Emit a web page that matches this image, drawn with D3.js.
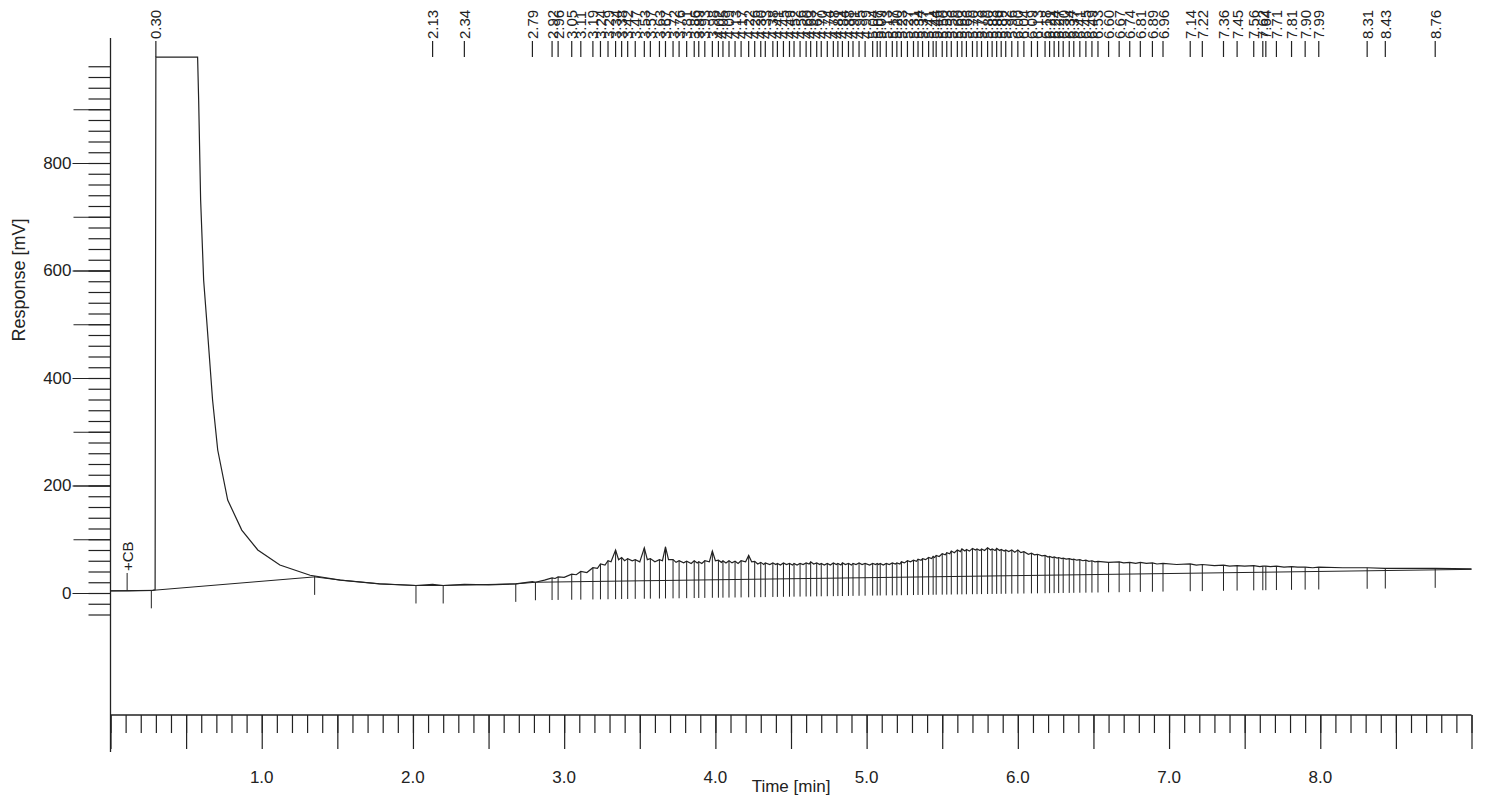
<!DOCTYPE html>
<html><head><meta charset="utf-8">
<script src="https://cdnjs.cloudflare.com/ajax/libs/d3/7.8.5/d3.min.js"></script>
<style>
html,body{margin:0;padding:0;background:#fff;}
svg text{font-family:"Liberation Sans",Arial,sans-serif;fill:#222;}
</style></head>
<body>
<svg id="chart" width="1486" height="801"></svg>
<script>
// ---- data ----
const sigT = [0.00,0.12,0.28,0.295,0.30,0.576,0.583,0.596,0.616,0.636,0.675,0.709,0.775,0.868,0.974,1.12,1.32,1.52,1.78,2.02,2.13,2.20,2.34,2.50,2.68,2.79,2.81,2.87,2.92,2.94,2.96,3.00,3.05,3.08,3.11,3.15,3.19,3.22,3.24,3.27,3.29,3.31,3.34,3.36,3.38,3.40,3.42,3.45,3.47,3.50,3.53,3.55,3.57,3.60,3.63,3.65,3.67,3.69,3.72,3.74,3.76,3.79,3.81,3.84,3.86,3.88,3.89,3.91,3.93,3.96,3.98,4.00,4.02,4.04,4.05,4.07,4.09,4.11,4.13,4.15,4.17,4.20,4.22,4.24,4.26,4.28,4.30,4.32,4.33,4.36,4.38,4.40,4.41,4.43,4.45,4.47,4.49,4.51,4.52,4.54,4.56,4.58,4.60,4.62,4.63,4.65,4.67,4.69,4.70,4.72,4.74,4.76,4.78,4.80,4.81,4.83,4.84,4.86,4.88,4.90,4.91,4.93,4.95,4.97,4.99,5.02,5.04,5.06,5.07,5.08,5.09,5.11,5.13,5.15,5.17,5.19,5.20,5.22,5.23,5.25,5.27,5.29,5.31,5.33,5.34,5.36,5.37,5.39,5.41,5.43,5.44,5.45,5.46,5.48,5.50,5.52,5.53,5.55,5.56,5.58,5.60,5.62,5.63,5.65,5.66,5.68,5.70,5.72,5.73,5.75,5.76,5.78,5.80,5.82,5.83,5.85,5.86,5.88,5.89,5.91,5.92,5.94,5.96,5.98,6.00,6.02,6.04,6.07,6.09,6.11,6.13,6.16,6.18,6.20,6.21,6.23,6.24,6.26,6.27,6.29,6.30,6.32,6.34,6.36,6.37,6.39,6.41,6.43,6.45,6.47,6.49,6.51,6.53,6.60,6.67,6.70,6.74,6.78,6.81,6.85,6.89,6.92,6.96,7.05,7.14,7.18,7.22,7.30,7.36,7.40,7.45,7.50,7.56,7.60,7.62,7.64,7.67,7.71,7.76,7.81,7.85,7.90,7.95,7.99,8.15,8.31,8.43,8.60,8.76,9.00];
const sigV = [4,4,5,6,997,997,917,731,582,508,359,266,173,117,80,52,33,24,17,14,16,14,16,15,17,21,20,24,28,27,30,29,35,34,40,38,47,46,54,52,60,58,80,62,66,60,64,60,62,58,84,62,64,58,62,60,86,62,62,57,60,56,59,55,60,56,58,55,60,58,78,60,61,57,60,56,60,56,59,55,60,58,70,58,59,54,57,53,56,53,56,53,55,52,56,53,55,52,55,52,55,53,56,54,58,54,56,53,55,52,55,52,56,53,55,52,56,53,55,52,55,53,56,53,55,52,55,53,55,53,55,52,55,53,56,54,56,54,58,56,60,58,61,59,63,61,64,62,66,64,68,66,70,68,73,71,75,73,78,75,80,77,82,78,81,78,83,80,82,79,82,79,84,80,82,79,83,79,81,78,80,77,80,76,80,75,77,72,74,71,72,69,70,67,68,66,67,65,66,64,65,63,64,62,63,61,62,60,61,59,60,58,59,57,58,56,57,55,57,55,56,54,55,53,54,52,53,51,52,50,51,50,51,49,50,50,49,50,48,49,48,48,47,48,47,47,46,46,46,45];
const baseT = [0.00,0.28,1.35,1.52,1.78,2.02,2.20,2.68,2.81,9.00];
const baseV = [4,5,30,24,17,14,14,17,20,44];
const peakTimes = [0.30,2.13,2.34,2.79,2.92,2.96,3.05,3.11,3.19,3.24,3.29,3.34,3.38,3.42,3.47,3.53,3.57,3.63,3.67,3.72,3.76,3.81,3.86,3.89,3.93,3.98,4.02,4.05,4.09,4.13,4.17,4.22,4.26,4.30,4.33,4.38,4.41,4.45,4.49,4.52,4.56,4.60,4.63,4.67,4.70,4.74,4.78,4.81,4.84,4.88,4.91,4.95,4.99,5.04,5.07,5.09,5.13,5.17,5.20,5.23,5.27,5.31,5.34,5.37,5.41,5.44,5.46,5.50,5.53,5.56,5.60,5.63,5.66,5.70,5.73,5.76,5.80,5.83,5.86,5.89,5.92,5.96,6.00,6.04,6.09,6.13,6.18,6.21,6.24,6.27,6.30,6.34,6.37,6.41,6.45,6.49,6.53,6.60,6.67,6.74,6.81,6.89,6.96,7.14,7.22,7.36,7.45,7.56,7.62,7.64,7.71,7.81,7.90,7.99,8.31,8.43,8.76];
const boundaryTimes = [0.27,1.35,2.02,2.20,2.68,2.81];
const eventTimes = [0.11];
const eventLabels = ["+CB"];
const xLabelTicks = [1,2,3,4,5,6,7,8];
const yLabelTicks = [0,200,400,600,800];
const xTitle = "Time [min]";
const yTitle = "Response [mV]";

// ---- drawing ----
const svg = d3.select("#chart");
const ink = "#222";
const x = d3.scaleLinear().domain([0, 9]).range([110.5, 1471.5]);
const y = d3.scaleLinear().domain([0, 1000]).range([593, 55.5]);

const sig = sigT.map((t, i) => [t, sigV[i]]);
const base = baseT.map((t, i) => [t, baseV[i]]);
function interp(T, V, t) {
  const i = Math.max(1, Math.min(T.length - 1, d3.bisectLeft(T, t)));
  const t0 = T[i - 1], t1 = T[i];
  const f = t1 === t0 ? 0 : (t - t0) / (t1 - t0);
  return V[i - 1] + f * (V[i] - V[i - 1]);
}

// axes lines
svg.append("line").attr("x1", x(0)).attr("x2", x(0)).attr("y1", 38).attr("y2", 752)
  .attr("stroke", ink).attr("stroke-width", 1.3);
svg.append("line").attr("x1", x(0)).attr("x2", x(9)).attr("y1", 715).attr("y2", 715)
  .attr("stroke", ink).attr("stroke-width", 1.3);

// y axis ticks
function yTicks(values, size, labels) {
  const ax = d3.axisLeft(y).tickValues(values).tickSize(size).tickPadding(1)
    .tickFormat(labels ? d3.format("d") : "");
  const g = svg.append("g").attr("transform", `translate(${x(0)},0)`).call(ax);
  g.select(".domain").remove();
  g.selectAll("line").attr("stroke", ink).attr("stroke-width", 1.2);
  g.selectAll("text").attr("font-size", 17).style("font-family", '"Liberation Sans",Arial,sans-serif').attr("fill", ink);
}
yTicks(d3.range(-40, 1000, 20), 22, false);
yTicks(d3.range(100, 1000, 100), 37, false);
yTicks(yLabelTicks, 38, true);

// x axis ticks
function xTicks(values, size) {
  const ax = d3.axisBottom(x).tickValues(values).tickSize(size).tickFormat("");
  const g = svg.append("g").attr("transform", "translate(0,715)").call(ax);
  g.select(".domain").remove();
  g.selectAll("line").attr("stroke", ink).attr("stroke-width", 1.2);
}
xTicks(d3.range(0, 91).map(d => d / 10), 18);
xTicks(d3.range(0, 19).map(d => d / 2), 34);
svg.append("g").selectAll("text").data(xLabelTicks).join("text")
  .attr("x", d => x(d)).attr("y", 777).attr("text-anchor", "middle")
  .attr("dominant-baseline", "central").attr("font-size", 17).text(d3.format(".1f"));

// titles
svg.append("text").attr("x", (x(0) + x(9)) / 2).attr("y", 786).attr("text-anchor", "middle")
  .attr("dominant-baseline", "central").attr("font-size", 17).text(xTitle);
svg.append("text").attr("transform", "translate(19,280) rotate(-90)").attr("text-anchor", "middle")
  .attr("dominant-baseline", "central").attr("font-size", 18).text(yTitle);

// baseline
svg.append("path").datum(base)
  .attr("d", d3.line().x(d => x(d[0])).y(d => y(d[1])))
  .attr("fill", "none").attr("stroke", ink).attr("stroke-width", 1);

// drop lines (boundaries + peaks)
const drops = boundaryTimes.concat(peakTimes.filter(t => t > 2.85));
svg.append("g").selectAll("line").data(drops).join("line")
  .attr("x1", d => x(d)).attr("x2", d => x(d))
  .attr("y1", d => y(interp(sigT, sigV, d)))
  .attr("y2", d => y(interp(baseT, baseV, d)) + 18)
  .attr("stroke", ink).attr("stroke-width", 1);

// signal
svg.append("path").datum(sig)
  .attr("d", d3.line().x(d => x(d[0])).y(d => y(d[1])))
  .attr("fill", "none").attr("stroke", ink).attr("stroke-width", 1.2);

// peak labels at top
const pl = svg.append("g").selectAll("g").data(peakTimes).join("g");
pl.append("line").attr("x1", d => x(d)).attr("x2", d => x(d)).attr("y1", 57).attr("y2", 41)
  .attr("stroke", ink).attr("stroke-width", 1.2);
pl.append("text").attr("transform", d => `translate(${x(d)},39) rotate(-90)`)
  .attr("dominant-baseline", "central").attr("font-size", 15).text(d3.format(".2f"));

// events (+CB)
const ev = svg.append("g").selectAll("g").data(eventTimes).join("g");
ev.append("line").attr("x1", d => x(d)).attr("x2", d => x(d))
  .attr("y1", d => y(interp(sigT, sigV, d))).attr("y2", 573).attr("stroke", ink).attr("stroke-width", 1);
ev.append("text").attr("transform", d => `translate(${x(d)},571) rotate(-90)`)
  .attr("dominant-baseline", "central").attr("font-size", 15).text((d, i) => eventLabels[i]);
</script>
</body></html>
